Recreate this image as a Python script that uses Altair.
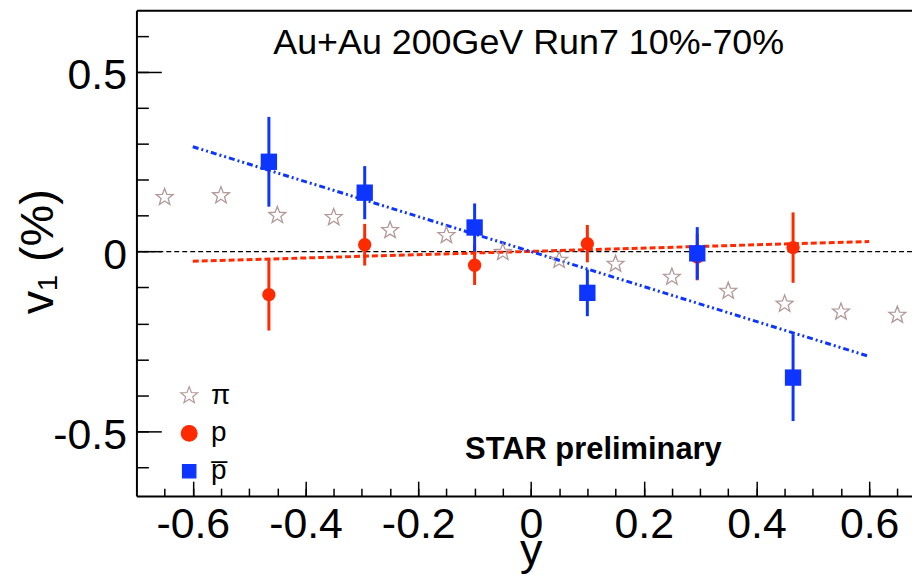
import altair as alt
import pandas as pd

# ---------------- data ----------------
species = ["π", "p", "p\u0305"]

pi_y = [-0.65, -0.55, -0.45, -0.35, -0.25, -0.15, -0.05, 0.05, 0.15, 0.25, 0.35, 0.45, 0.55, 0.65]
pi_v1 = [0.151, 0.156, 0.101, 0.095, 0.059, 0.045, -0.002, -0.024, -0.035, -0.071, -0.110, -0.146, -0.168, -0.177]

p_y = [-0.465, -0.295, -0.1, 0.1, 0.295, 0.465]
p_v1 = [-0.120, 0.019, -0.038, 0.022, -0.015, 0.011]
p_err = [0.100, 0.058, 0.055, 0.052, 0.065, 0.098]

pbar_y = [-0.465, -0.295, -0.1, 0.1, 0.295, 0.465]
pbar_v1 = [0.250, 0.164, 0.067, -0.115, -0.005, -0.351]
pbar_err = [0.125, 0.074, 0.067, 0.065, 0.073, 0.121]

fit_y = [-0.6, 0.6]
p_fit = [-0.027, 0.028]
pbar_fit = [0.292, -0.292]

zero_v1 = [0.0]

x_major = [-0.6, -0.4, -0.2, 0, 0.2, 0.4, 0.6]
x_minor = [-0.65, -0.6, -0.55, -0.5, -0.45, -0.4, -0.35, -0.3, -0.25, -0.2, -0.15, -0.1, -0.05,
           0, 0.05, 0.1, 0.15, 0.2, 0.25, 0.3, 0.35, 0.4, 0.45, 0.5, 0.55, 0.6, 0.65]
y_major = [-0.5, 0, 0.5]
y_minor = [-0.6, -0.5, -0.4, -0.3, -0.2, -0.1, 0, 0.1, 0.2, 0.3, 0.4, 0.5, 0.6]

title_text = ["Au+Au 200GeV Run7 10%-70%"]
prelim_text = ["STAR preliminary"]

# ---------------- tables ----------------
pi_df = pd.DataFrame({"y": pi_y, "v1": pi_v1, "species": species[0]})
p_df = pd.DataFrame({"y": p_y, "v1": p_v1, "err": p_err})
p_df["lo"] = p_df["v1"] - p_df["err"]
p_df["hi"] = p_df["v1"] + p_df["err"]
pb_df = pd.DataFrame({"y": pbar_y, "v1": pbar_v1, "err": pbar_err})
pb_df["lo"] = pb_df["v1"] - pb_df["err"]
pb_df["hi"] = pb_df["v1"] + pb_df["err"]
pfit_df = pd.DataFrame({"y": fit_y, "v1": p_fit})
pbfit_df = pd.DataFrame({"y": fit_y, "v1": pbar_fit})
zero_df = pd.DataFrame({"v1": zero_v1})
title_df = pd.DataFrame({"label": title_text})
prelim_df = pd.DataFrame({"label": prelim_text})

# ---------------- styles ----------------
FONT = "Liberation Sans"
RED = "#ff2a00"
BLUE = "#0d35ff"
STARC = "#b39999"
STAR = ("M0,-1L0.247,-0.34L0.951,-0.309L0.399,0.13L0.588,0.809L0,0.42"
        "L-0.588,0.809L-0.399,0.13L-0.951,-0.309L-0.247,-0.34Z")
W, H = 779, 488

xs = alt.Scale(domain=[-0.7, 0.676], nice=False, zero=False)
ys = alt.Scale(domain=[-0.681, 0.672], nice=False, zero=False)

lab_expr = "datum.value < 0 ? '-' + format(-datum.value, '.1~f') : format(datum.value, '.1~f')"

x_main = alt.Axis(orient="bottom", values=x_major, labelExpr=lab_expr, labelFont=FONT,
                  labelFontSize=43, labelColor="black", labelPadding=8, labelFlush=False,
                  labelOverlap=False, ticks=False, tickSize=0, domain=True,
                  domainColor="black", domainWidth=2, grid=False, title="y",
                  titleFont=FONT, titleFontSize=45, titleFontWeight="normal",
                  titleColor="black", titleX=396, titleY=69, titleAlign="center",
                  titleBaseline="alphabetic", titleAngle=0)
y_main = alt.Axis(orient="left", values=y_major, labelExpr=lab_expr, labelFont=FONT,
                  labelFontSize=43, labelColor="black", labelPadding=10, labelOffset=4,
                  labelFlush=False, labelOverlap=False, ticks=False, tickSize=0,
                  domain=True, domainColor="black", domainWidth=2, grid=False,
                  title="v\u2081 (%)", titleFont=FONT, titleFontSize=47,
                  titleFontWeight="normal", titleColor="black", titleX=-84, titleY=242,
                  titleAlign="center", titleBaseline="alphabetic", titleAngle=270)
x_top = alt.Axis(orient="top", labels=False, ticks=False, domain=True, domainColor="black",
                 domainWidth=2, grid=False, title=None)
x_maj_ticks = alt.Axis(orient="top", offset=-H, values=x_major, labels=False, domain=False,
                       ticks=True, tickSize=15, tickColor="black", tickWidth=1.5,
                       grid=False, title=None)
x_min_ticks = alt.Axis(orient="top", offset=-H, values=x_minor, labels=False, domain=False,
                       ticks=True, tickSize=8, tickColor="black", tickWidth=1.5,
                       grid=False, title=None)
y_maj_ticks = alt.Axis(orient="right", offset=-W, values=y_major, labels=False, domain=False,
                       ticks=True, tickSize=25, tickColor="black", tickWidth=1.5,
                       grid=False, title=None)
y_min_ticks = alt.Axis(orient="right", offset=-W, values=y_minor, labels=False, domain=False,
                       ticks=True, tickSize=12, tickColor="black", tickWidth=1.5,
                       grid=False, title=None)

leg = alt.Legend(title=None, orient="none", legendX=39, legendY=373, labelFont=FONT,
                 labelFontSize=28, labelColor="black", labelOffset=8, rowPadding=10,
                 padding=0, symbolStrokeWidth=1.2, symbolOpacity=1)

# ---------------- layers ----------------
zero = alt.Chart(zero_df).mark_rule(color="black", strokeDash=[5, 3], strokeWidth=1.3).encode(
    y=alt.Y("v1:Q", scale=ys, axis=None))

red_fit = alt.Chart(pfit_df).mark_line(color=RED, strokeWidth=3, strokeDash=[6, 3]).encode(
    x=alt.X("y:Q", scale=xs, axis=None),
    y=alt.Y("v1:Q", scale=ys, axis=None))

blue_fit = alt.Chart(pbfit_df).mark_line(color=BLUE, strokeWidth=3,
                                         strokeDash=[6, 3, 2, 3, 2, 3]).encode(
    x=alt.X("y:Q", scale=xs, axis=x_min_ticks),
    y=alt.Y("v1:Q", scale=ys, axis=None))

stars = alt.Chart(pi_df).mark_point(filled=True, strokeWidth=1.3, opacity=1).encode(
    x=alt.X("y:Q", scale=xs, axis=x_main),
    y=alt.Y("v1:Q", scale=ys, axis=y_main),
    shape=alt.Shape("species:N", scale=alt.Scale(domain=species, range=[STAR, "circle", "square"]),
                    legend=leg),
    fill=alt.Fill("species:N", scale=alt.Scale(domain=species, range=["transparent", RED, BLUE]),
                  legend=leg),
    stroke=alt.Stroke("species:N", scale=alt.Scale(domain=species, range=[STARC, RED, BLUE]),
                      legend=leg),
    size=alt.Size("species:N", scale=alt.Scale(domain=species, range=[320, 180, 270]),
                  legend=leg),
)

p_bars = alt.Chart(p_df).mark_rule(color=RED, strokeWidth=3).encode(
    x=alt.X("y:Q", scale=xs, axis=None),
    y=alt.Y("lo:Q", scale=ys, axis=None),
    y2="hi:Q")

p_pts = alt.Chart(p_df).mark_point(shape="circle", filled=True, size=180, color=RED,
                                   opacity=1).encode(
    x=alt.X("y:Q", scale=xs, axis=x_top),
    y=alt.Y("v1:Q", scale=ys, axis=y_maj_ticks))

pb_bars = alt.Chart(pb_df).mark_rule(color=BLUE, strokeWidth=3).encode(
    x=alt.X("y:Q", scale=xs, axis=None),
    y=alt.Y("lo:Q", scale=ys, axis=None),
    y2="hi:Q")

pb_pts = alt.Chart(pb_df).mark_point(shape="square", filled=True, size=270, color=BLUE,
                                     opacity=1).encode(
    x=alt.X("y:Q", scale=xs, axis=x_maj_ticks),
    y=alt.Y("v1:Q", scale=ys, axis=y_min_ticks))

title_txt = alt.Chart(title_df).mark_text(font=FONT, fontSize=36, color="black",
                                          align="center", baseline="alphabetic").encode(
    x=alt.value(394), y=alt.value(44), text="label:N")

prelim_txt = alt.Chart(prelim_df).mark_text(font=FONT, fontSize=31, fontWeight="bold",
                                            color="black", align="center",
                                            baseline="alphabetic").encode(
    x=alt.value(459), y=alt.value(451), text="label:N")

chart = alt.layer(zero, red_fit, blue_fit, stars, p_bars, p_pts, pb_bars, pb_pts,
                  title_txt, prelim_txt).resolve_axis(
    x="independent", y="independent"
).properties(
    width=W, height=H,
    autosize=alt.AutoSizeParams(type="none"),
    padding={"left": 129, "top": 1, "right": 0, "bottom": 78},
    background="white",
).configure_view(stroke=None)

chart.save("out.html", embed_options={"renderer": "svg", "actions": False})
